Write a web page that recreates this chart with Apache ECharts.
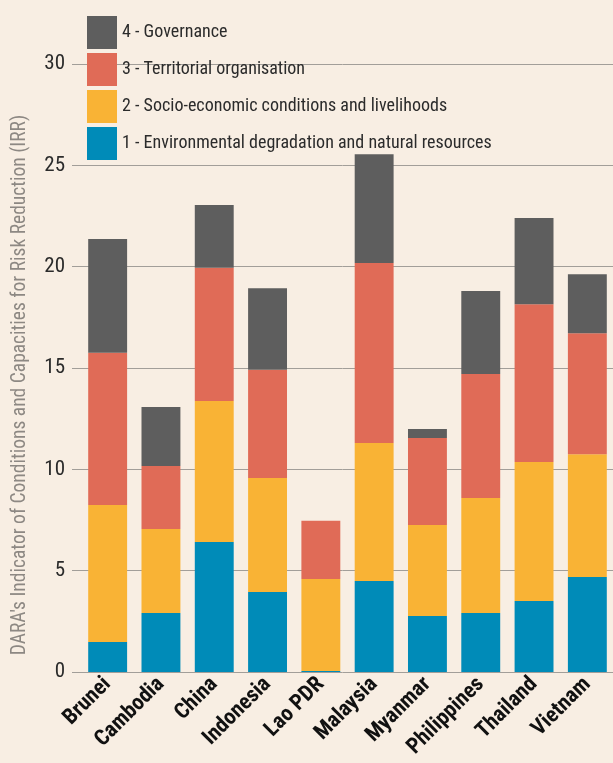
<!DOCTYPE html>
<html>
<head>
<meta charset="utf-8">
<script src="https://cdn.jsdelivr.net/npm/echarts@6/dist/echarts.min.js"></script>
<style>
  html, body { margin: 0; padding: 0; background: #f8eee3; }
  #chart { width: 613px; height: 763px; }
</style>
</head>
<body>
<div id="chart"></div>
<script>
var countries = ['Brunei', 'Cambodia', 'China', 'Indonesia', 'Lao PDR', 'Malaysia', 'Myanmar', 'Philippines', 'Thailand', 'Vietnam'];

// segment values, bottom to top
var environment = [1.48, 2.91, 6.41, 3.95, 0.05, 4.49, 2.76, 2.91, 3.50, 4.69];
var socioEconomic = [6.76, 4.14, 6.96, 5.62, 4.54, 6.81, 4.49, 5.67, 6.86, 6.06];
var territorial = [7.51, 3.11, 6.58, 5.34, 2.87, 8.88, 4.29, 6.12, 7.79, 5.97];
var governance = [5.61, 2.91, 3.09, 4.03, 0, 5.37, 0.45, 4.10, 4.25, 2.91];

var yTicks = [0, 5, 10, 15, 20, 25, 30];

var names = [
    '1 - Environmental degradation and natural resources',
    '2 - Socio-economic conditions and livelihoods',
    '3 - Territorial organisation',
    '4 - Governance'
];
var colors = ['#008bb8', '#f9b335', '#e06b57', '#5e5e5e'];

var narrow = '"Roboto Condensed", "Liberation Sans Narrow", sans-serif';

var myChart = echarts.init(document.getElementById('chart'));

function makeSeries(i, data) {
    return {
        name: names[i],
        type: 'bar',
        stack: 'irr',
        xAxisIndex: 1,
        yAxisIndex: 1,
        barCategoryGap: '27%',
        itemStyle: { color: colors[i] },
        data: data
    };
}

var option = {
    backgroundColor: '#f8eee3',
    animation: false,
    color: colors,
    legend: {
        orient: 'vertical',
        left: 82,
        top: 11,
        itemWidth: 30,
        itemHeight: 33,
        itemGap: 4,
        icon: 'rect',
        data: [names[3], names[2], names[1], names[0]],
        textStyle: { fontFamily: narrow, fontSize: 18, color: '#2b2b2b' }
    },
    grid: [
        // gridlines + y labels
        { left: 72, right: 0, top: 64, bottom: 91, outerBoundsMode: 'none' },
        // bars
        { left: 81, right: -1, top: 64, bottom: 91, outerBoundsMode: 'none' }
    ],
    xAxis: [
        { gridIndex: 0, type: 'value', show: false, min: 0, max: 1 },
        {
            gridIndex: 1,
            type: 'category',
            data: countries,
            axisLine: { show: false },
            axisTick: { show: false },
            axisLabel: {
                rotate: 45,
                margin: 9,
                interval: 0,
                fontFamily: narrow,
                fontWeight: 'bold',
                fontSize: 22,
                color: '#111'
            }
        }
    ],
    yAxis: [
        {
            gridIndex: 0,
            type: 'value',
            min: yTicks[0],
            max: yTicks[yTicks.length - 1],
            interval: 5,
            name: "DARA's Indicator of Conditions and Capacities for Risk Reduction (IRR)",
            nameLocation: 'middle',
            nameGap: 42,
            nameTextStyle: {
                fontFamily: narrow,
                fontSize: 19.5,
                color: '#8d8883',
                padding: [0, 34, 0, 0]
            },
            axisLine: { show: false },
            axisTick: { show: false },
            axisLabel: { margin: 7, fontFamily: narrow, fontSize: 21, color: '#2b2b2b' },
            splitLine: { show: true, lineStyle: { color: '#a29e99', width: 1 } }
        },
        {
            gridIndex: 1,
            type: 'value',
            min: 0,
            max: 30,
            interval: 5,
            show: false,
            splitLine: { show: false }
        }
    ],
    series: [
        makeSeries(0, environment),
        makeSeries(1, socioEconomic),
        makeSeries(2, territorial),
        makeSeries(3, governance)
    ]
};

myChart.setOption(option);
</script>
</body>
</html>
